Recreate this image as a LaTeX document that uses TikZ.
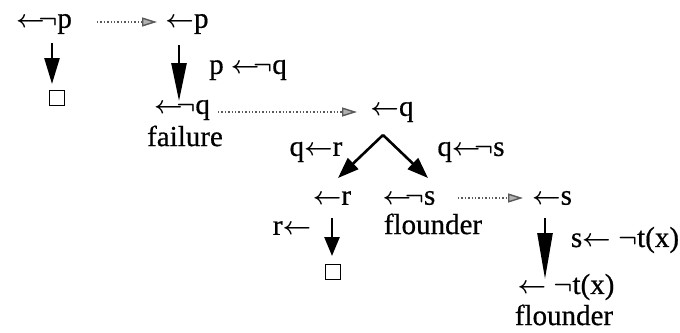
\documentclass[tikz,border=0pt]{standalone}
\usepackage{fontspec}
\setmainfont{Liberation Serif}[FakeBold=0.6]
\usetikzlibrary{arrows.meta}
\newcommand{\la}{{\boldmath$\leftarrow$}}
\newcommand{\lan}{{\boldmath$\leftarrow\!\!\!\neg$}}
\newcommand{\ngt}{{\boldmath$\neg$}}
\begin{document}
\begin{tikzpicture}[x=1pt,y=-1pt,
  lbl/.style={inner sep=0pt, font=\fontsize{29}{32}\selectfont},
  bigarrow/.style={line width=2.6pt, -{Triangle[length=#1, width=15pt]}},
  dotarrow/.style={gray!70!black, line width=1.4pt, dotted, -{Triangle[length=15pt, width=9pt, fill=gray!60]}},
  emptybox/.style={draw, line width=1.5pt, minimum size=15pt, inner sep=0pt}]
\useasboundingbox (0,0) rectangle (680,332);
% nodes
\node[lbl] (n1) at (44,24) {\lan p};
\node[lbl] (n2) at (187,24) {\la p};
\node[emptybox] (b1) at (57,98) {};
\node[lbl] (n3) at (182,110) {\lan q};
\node[lbl] (f1) at (185,136) {failure};
\node[lbl] (n4) at (392,112) {\la q};
\node[lbl] (n5) at (332,198) {\la r};
\node[lbl] (n6) at (409,198) {\lan s};
\node[lbl] (fl1) at (433,224) {flounder};
\node[lbl] (n7) at (552,198) {\la s};
\node[emptybox] (b2) at (333,272) {};
\node[lbl] (n8) at (566,287) {\la\ \ngt t(x)};
\node[lbl] (fl2) at (564,315) {flounder};
% edge labels
\node[lbl] (l1) at (248,70) {p \lan q};
\node[lbl] (l2) at (316,152) {q\la r};
\node[lbl] (l3) at (471,152) {q\lan s};
\node[lbl] (l4) at (292,228) {r\la};
\node[lbl] (l5) at (625,240) {s\la\ \ngt t(x)};
% arrows
\draw[bigarrow=26pt] ([shift={(8,19)}]n1.center) -- ([shift={(-5,-14)}]b1.center);
\draw[bigarrow=38pt] ([shift={(-8,21)}]n2.center) -- ([shift={(-3,-9)}]n3.center);
\draw[bigarrow=21pt] ([shift={(-9,23)}]n4.center) -- ([shift={(6,-20)}]n5.center);
\draw[bigarrow=21pt] ([shift={(-9,23)}]n4.center) -- ([shift={(19,-20)}]n6.center);
\draw[bigarrow=19pt] ([shift={(0,20)}]n5.center) -- ([shift={(-1,-16)}]b2.center);
\draw[bigarrow=46pt] ([shift={(-7,20)}]n7.center) -- ([shift={(-21,-8)}]n8.center);
\draw[dotarrow] ([shift={(53,-2)}]n1.center) -- ([shift={(-30,-2)}]n2.center);
\draw[dotarrow] ([shift={(36,2)}]n3.center) -- ([shift={(-35,0)}]n4.center);
\draw[dotarrow] ([shift={(49,0)}]n6.center) -- ([shift={(-29,0)}]n7.center);
\end{tikzpicture}
\end{document}
